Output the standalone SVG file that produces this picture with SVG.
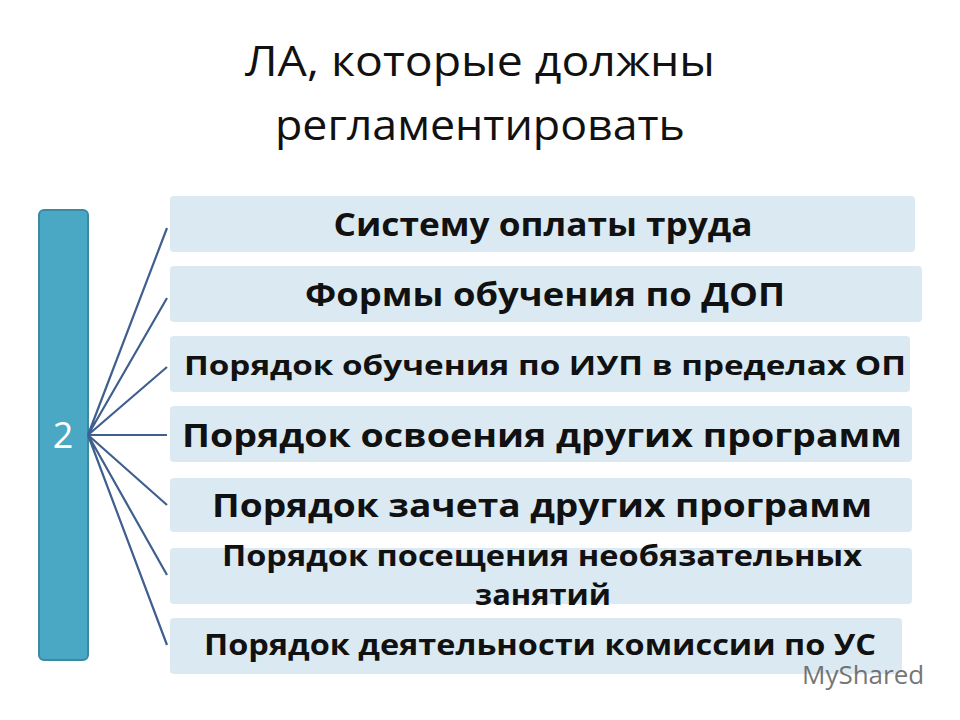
<svg xmlns="http://www.w3.org/2000/svg" width="960" height="720" viewBox="0 0 960 720">
<style>
.box{fill:#dbeaf2}
.t{font-family:"Open Sans","Liberation Sans",sans-serif;font-weight:bold;fill:#111;text-anchor:middle}
.c{stroke:#3f5f8f;stroke-width:2.2;fill:none}
</style>
<rect width="960" height="720" fill="#fff"/>
<g id="title" font-family="Open Sans, Liberation Sans, sans-serif" font-size="42" fill="#111" text-anchor="middle">
<text x="480" y="76" textLength="470" lengthAdjust="spacingAndGlyphs">ЛА, которые должны</text>
<text x="480" y="140" textLength="410" lengthAdjust="spacingAndGlyphs">регламентировать</text>
</g>
<g id="n0"><rect x="39" y="210" width="49" height="450" rx="5" fill="#4aa8c4" stroke="#3a8aa2" stroke-width="2"/>
<text x="63" y="448" font-family="Open Sans, Liberation Sans, sans-serif" font-size="36" fill="#fff" text-anchor="middle">2</text></g>
<g id="connectors">
<path class="c" d="M88 435L167 228M88 435L167 298M88 435L167 367M88 435L167 435M88 435L167 505M88 435L167 575M88 435L167 645"/>
</g>
<g id="n1"><rect class="box" x="170" y="196" width="745" height="56" rx="4"/><text class="t" x="543" y="236" font-size="32" textLength="419" lengthAdjust="spacingAndGlyphs">Систему оплаты труда</text></g>
<g id="n2"><rect class="box" x="170" y="266" width="752" height="56" rx="4"/><text class="t" x="545" y="306" font-size="32" textLength="480" lengthAdjust="spacingAndGlyphs">Формы обучения по ДОП</text></g>
<g id="n3"><rect class="box" x="170" y="336" width="740" height="56" rx="4"/><text class="t" x="545" y="375" font-size="27" textLength="722" lengthAdjust="spacingAndGlyphs">Порядок обучения по ИУП в пределах ОП</text></g>
<g id="n4"><rect class="box" x="170" y="406" width="742" height="56" rx="4"/><text class="t" x="542" y="447" font-size="33" textLength="720" lengthAdjust="spacingAndGlyphs">Порядок освоения других программ</text></g>
<g id="n5"><rect class="box" x="170" y="478" width="742" height="54" rx="4"/><text class="t" x="542" y="517" font-size="33" textLength="660" lengthAdjust="spacingAndGlyphs">Порядок зачета других программ</text></g>
<g id="n6"><rect class="box" x="170" y="548" width="742" height="56" rx="4"/><text class="t" x="542" y="566" font-size="29" textLength="640" lengthAdjust="spacingAndGlyphs">Порядок посещения необязательных</text><text class="t" x="543" y="605" font-size="29" textLength="136" lengthAdjust="spacingAndGlyphs">занятий</text></g>
<g id="n7"><rect class="box" x="170" y="618" width="732" height="56" rx="4"/><text class="t" x="540" y="655" font-size="28" textLength="672" lengthAdjust="spacingAndGlyphs">Порядок деятельности комиссии по УС</text></g>
<text x="802" y="684" font-family="Open Sans, Liberation Sans, sans-serif" font-size="26" fill="#555" opacity="0.8">MyShared</text>
</svg>
